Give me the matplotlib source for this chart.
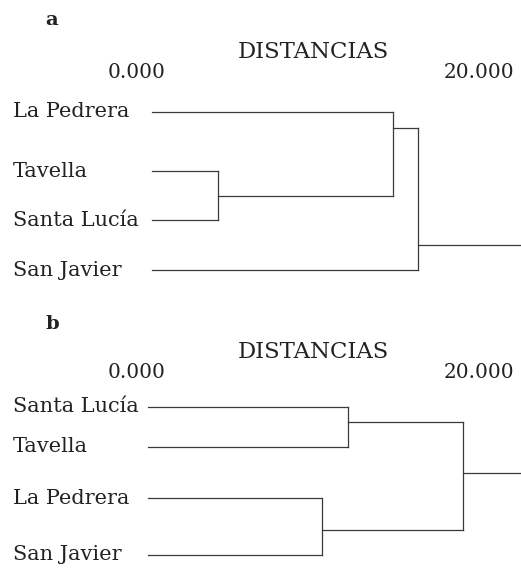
import matplotlib
matplotlib.use("Agg")
import matplotlib.pyplot as plt

# Datos (distancias reescaladas, 0.000 a 20.000)
# Panel a
hojas_a = ["La Pedrera", "Tavella", "Santa Lucía", "San Javier"]
posicion_hojas_a = [0.0, 1.12, 2.05, 3.0]
inicio_a = 0.88
# fusiones: (hijo izq, hijo der, distancia, posicion del enlace)
fusiones_a = [
    (1, 2, 4.74, 1.59),
    (0, 4, 14.97, 0.30),
    (5, 3, 16.43, 2.52),
]

# Panel b
hojas_b = ["Santa Lucía", "Tavella", "La Pedrera", "San Javier"]
posicion_hojas_b = [0.0, 0.81, 1.85, 3.0]
inicio_b = 0.64
fusiones_b = [
    (0, 1, 12.34, 0.30),
    (2, 3, 10.82, 2.49),
    (4, 5, 19.06, 1.34),
]

fin_raiz = 22.46
ticks = [0, 20]
tick_labels = ["0.000", "20.000"]

color_linea = "#3a3a3a"
fuente = "DejaVu Serif"
plt.rcParams["font.family"] = [fuente]

W, H = 521, 569
fig = plt.figure(figsize=(W / 100, H / 100), dpi=100)


def dendrograma(ax, hojas, pos, inicio, fusiones, ylim):
    # cada nodo guarda (distancia, posicion del enlace)
    nodos = [(inicio, p) for p in pos]
    for izq, der, dist, enlace in fusiones:
        for hijo in (izq, der):
            d, y = nodos[hijo]
            ax.plot([d, dist], [y, y], color=color_linea, lw=0.9)
        y1 = nodos[izq][1]
        y2 = nodos[der][1]
        ax.plot([dist, dist], [y1, y2], color=color_linea, lw=0.9)
        nodos.append((dist, enlace))
    d, y = nodos[-1]
    ax.plot([d, fin_raiz], [y, y], color=color_linea, lw=0.9)
    for nombre, p in zip(hojas, pos):
        ax.text(-7.25, p, nombre, ha="left", va="center", fontsize=15, color="#222222")
    ax.set_xlim(-8.01, 22.46)
    ax.set_ylim(*ylim)
    ax.axis("off")


# panel a ocupa de 0 a 290 px, panel b de 290 a 569 px
ax_a = fig.add_axes([0, 1 - 290 / H, 1, 290 / H])
dendrograma(ax_a, hojas_a, posicion_hojas_a, inicio_a, fusiones_a, (3.378, -2.125))
ax_b = fig.add_axes([0, 0, 1, 279 / H])
dendrograma(ax_b, hojas_b, posicion_hojas_b, inicio_b, fusiones_b, (3.286, -2.373))

# textos de cabecera
for ax, letra, y_letra, y_titulo, y_tick in [
    (ax_a, "a", -1.75, -1.14, -0.74),
    (ax_b, "b", -1.68, -1.12, -0.69),
]:
    ax.text(-4.97, y_letra, letra, ha="center", va="center", fontsize=14, fontweight="bold", color="#222222")
    ax.text(10.29, y_titulo, "DISTANCIAS", ha="center", va="center", fontsize=16.4, color="#222222")
    for t, lab in zip(ticks, tick_labels):
        ax.text(t, y_tick, lab, ha="center", va="center", fontsize=14.5, color="#222222")

fig.savefig("out.png", dpi=100)
